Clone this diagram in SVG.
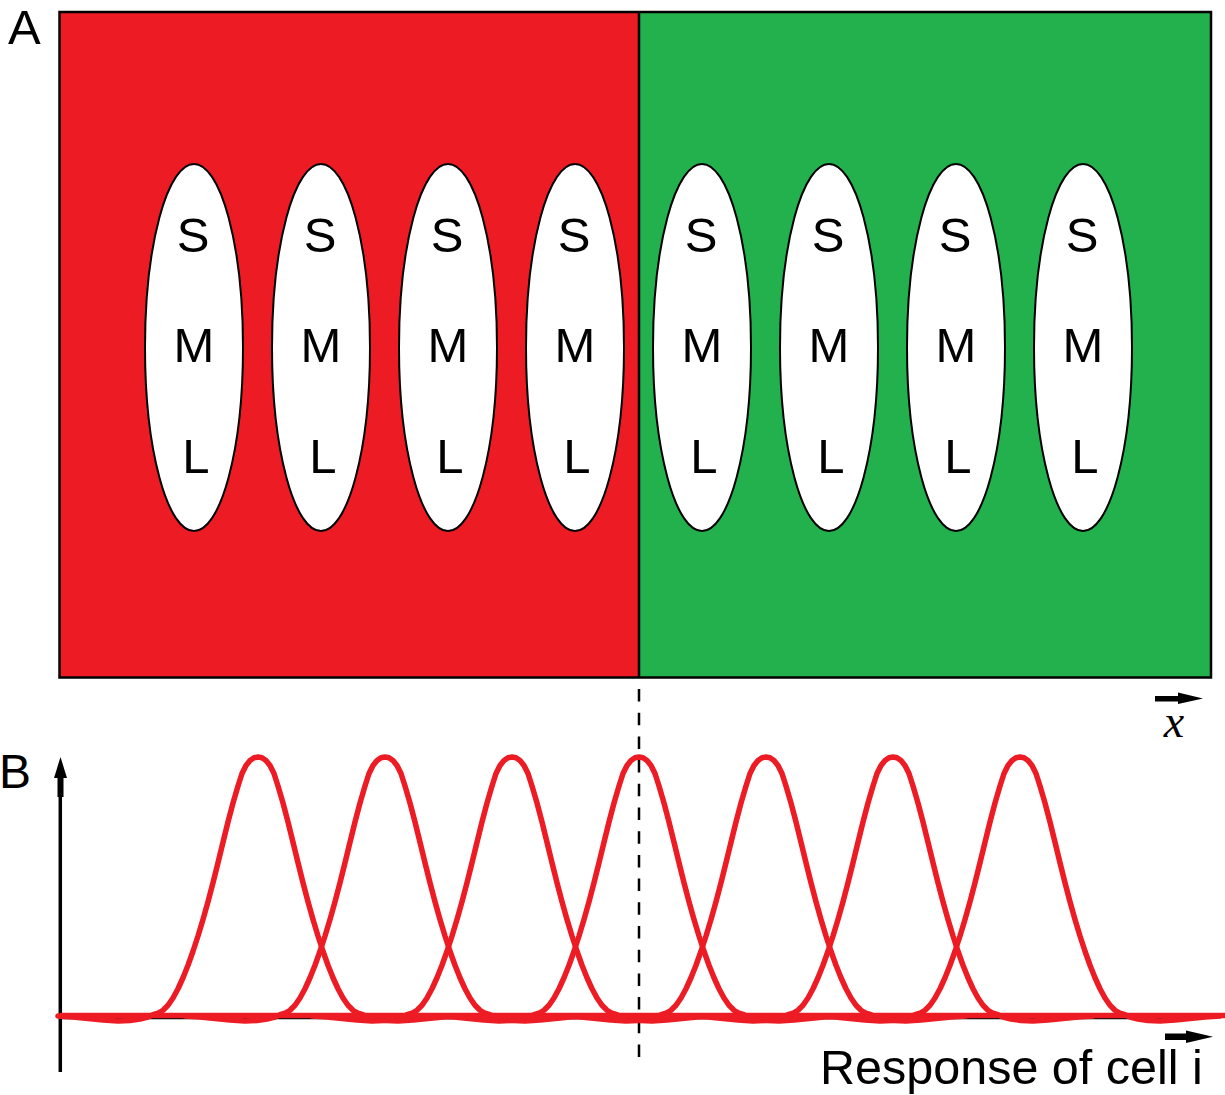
<svg xmlns="http://www.w3.org/2000/svg" xmlns:xlink="http://www.w3.org/1999/xlink" width="1225" height="1095" viewBox="0 0 1225 1095">
<style>
.lbl{font-family:"Liberation Sans",Arial,sans-serif;fill:#000}
.big{font-size:49px}
.cell{fill:#fff;stroke:#000;stroke-width:2}
.let{font-family:"Liberation Sans",Arial,sans-serif;font-size:49px;text-anchor:middle;fill:#000}
.curve{fill:none;stroke:#ED1C24;stroke-width:5.5;stroke-linejoin:round;stroke-linecap:round}
</style>
<defs>
<path id="peak" d="M-200,0 L-185,1 L-170,2.5 L-155,4 L-140,5 L-128,4.5 L-118,3 L-110,1 L-105,-1.25 L-100,-2.75 L-95,-5.75 L-90,-10.75 L-85,-18 L-80,-27.25 L-75,-38.25 L-70,-50.75 L-65,-64.75 L-60,-80 L-55,-96.5 L-50,-114.25 L-45,-133.25 L-40,-153.25 L-35,-173.75 L-30,-194 L-25,-213 L-20,-230 L-16,-242.5 L-12,-250.5 L-8,-255.5 L-4,-258.2 L0,-259 L4,-258.2 L8,-255.5 L12,-250.5 L16,-242.5 L20,-230 L25,-213 L30,-194 L35,-173.75 L40,-153.25 L45,-133.25 L50,-114.25 L55,-96.5 L60,-80 L65,-64.75 L70,-50.75 L75,-38.25 L80,-27.25 L85,-18 L90,-10.75 L95,-5.75 L100,-2.75 L105,-1.25 L110,1 L118,3 L128,4.5 L140,5 L155,4 L170,2.5 L185,1 L200,0"/>
</defs>
<rect width="1225" height="1095" fill="#fff"/>
<g id="panelA">
<rect id="red-field" x="59.5" y="12" width="579.5" height="665.5" fill="#ED1C24"/>
<rect id="green-field" x="639" y="12" width="572" height="665.5" fill="#22B14C"/>
<rect x="59.5" y="12" width="1151.5" height="665.5" fill="none" stroke="#000" stroke-width="2.5"/>
<line x1="639" y1="12" x2="639" y2="677.5" stroke="#000" stroke-width="2.5"/>
</g>
<text class="lbl big" x="8" y="44">A</text>
<text class="lbl" style="font-size:48px" x="-1" y="788">B</text>
<g id="cell1"><ellipse class="cell" cx="194" cy="347.5" rx="49" ry="183.5"/><text class="let" x="193" y="252">S</text><text class="let" x="194" y="362">M</text><text class="let" x="196" y="473">L</text></g>
<g id="cell2"><ellipse class="cell" cx="321" cy="347.5" rx="49" ry="183.5"/><text class="let" x="320" y="252">S</text><text class="let" x="321" y="362">M</text><text class="let" x="323" y="473">L</text></g>
<g id="cell3"><ellipse class="cell" cx="448" cy="347.5" rx="49" ry="183.5"/><text class="let" x="447" y="252">S</text><text class="let" x="448" y="362">M</text><text class="let" x="450" y="473">L</text></g>
<g id="cell4"><ellipse class="cell" cx="575" cy="347.5" rx="49" ry="183.5"/><text class="let" x="574" y="252">S</text><text class="let" x="575" y="362">M</text><text class="let" x="577" y="473">L</text></g>
<g id="cell5"><ellipse class="cell" cx="702" cy="347.5" rx="49" ry="183.5"/><text class="let" x="701" y="252">S</text><text class="let" x="702" y="362">M</text><text class="let" x="704" y="473">L</text></g>
<g id="cell6"><ellipse class="cell" cx="829" cy="347.5" rx="49" ry="183.5"/><text class="let" x="828" y="252">S</text><text class="let" x="829" y="362">M</text><text class="let" x="831" y="473">L</text></g>
<g id="cell7"><ellipse class="cell" cx="956" cy="347.5" rx="49" ry="183.5"/><text class="let" x="955" y="252">S</text><text class="let" x="956" y="362">M</text><text class="let" x="958" y="473">L</text></g>
<g id="cell8"><ellipse class="cell" cx="1083" cy="347.5" rx="49" ry="183.5"/><text class="let" x="1082" y="252">S</text><text class="let" x="1083" y="362">M</text><text class="let" x="1085" y="473">L</text></g>
<g id="connectors">
<line x1="639" y1="689" x2="639" y2="1057" stroke="#000" stroke-width="2.5" stroke-dasharray="12.5 11.2"/>
<rect x="1155" y="696" width="27" height="5.5" fill="#000"/>
<polygon points="1178,692.5 1203,698.5 1178,704" fill="#000"/>
<line x1="60.3" y1="797" x2="60.3" y2="1072" stroke="#000" stroke-width="3.5"/>
<rect x="57.5" y="776" width="6" height="21" fill="#000"/>
<polygon points="60.5,757 67,778 54,778" fill="#000"/>
<rect x="1165" y="1033.5" width="24" height="6.5" fill="#000"/>
<polygon points="1186,1030.5 1213,1036.8 1186,1043" fill="#000"/>
<line x1="60" y1="1018" x2="1177" y2="1018" stroke="#000" stroke-width="2.5"/>
</g>
<g id="responses">
<line class="curve" x1="60" y1="1015.5" x2="1225" y2="1015.5" style="stroke-linecap:butt"/>
<use xlink:href="#peak" href="#peak" class="curve" transform="translate(258,1016)"/>
<use xlink:href="#peak" href="#peak" class="curve" transform="translate(385,1016)"/>
<use xlink:href="#peak" href="#peak" class="curve" transform="translate(512,1016)"/>
<use xlink:href="#peak" href="#peak" class="curve" transform="translate(639,1016)"/>
<use xlink:href="#peak" href="#peak" class="curve" transform="translate(766,1016)"/>
<use xlink:href="#peak" href="#peak" class="curve" transform="translate(893,1016)"/>
<use xlink:href="#peak" href="#peak" class="curve" transform="translate(1020,1016)"/>
</g>
<text x="1174" y="737" style="font-family:'Liberation Serif','Times New Roman',serif;font-style:italic;font-size:46px;text-anchor:middle">x</text>
<text class="lbl" style="font-size:48.5px" x="820" y="1084">Response of cell i</text>
</svg>
